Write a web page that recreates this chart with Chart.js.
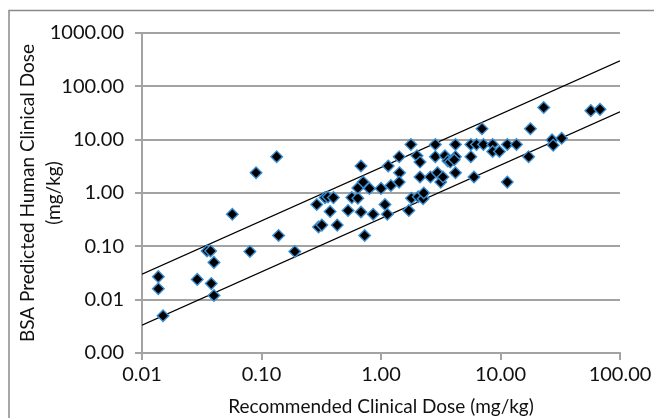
<!DOCTYPE html>
<html>
<head>
<meta charset="utf-8">
<script src="https://cdn.jsdelivr.net/npm/chart.js@4/dist/chart.umd.min.js"></script>
<style>
  html, body { margin: 0; padding: 0; background: #fff; }
  #wrap { width: 654px; height: 418px; position: relative; }
</style>
</head>
<body>
<div id="wrap"><canvas id="c" width="654" height="418"></canvas></div>
<script>
// ---- data ----
const recommendedDose = [
  0.0137, 0.0137, 0.015, 0.029, 0.035, 0.0375, 0.038, 0.040, 0.040, 0.057,
  0.080, 0.090, 0.134, 0.139, 0.19, 0.29, 0.30, 0.32, 0.34, 0.36,
  0.40, 0.375, 0.43, 0.53, 0.57, 0.64, 0.64, 0.68, 0.68, 0.71,
  0.73, 0.80, 0.86, 1.0, 1.08, 1.13, 1.15, 1.21, 1.42, 1.43,
  1.42, 1.71, 1.78, 1.80, 2.0, 2.12, 2.12, 2.05, 2.25, 2.28,
  2.59, 2.85, 2.85, 2.97, 3.16, 3.3, 3.43, 3.63, 3.8, 4.2,
  4.2, 4.2, 4.1, 5.65, 5.65, 6.0, 6.3, 7.0, 7.2, 8.6,
  8.6, 9.8, 11.4, 11.4, 13.6, 17.2, 17.8, 23, 27, 27.6,
  32.5, 57, 68
];
const predictedDose = [
  0.027, 0.016, 0.005, 0.024, 0.082, 0.082, 0.020, 0.050, 0.012, 0.40,
  0.080, 2.4, 4.8, 0.16, 0.080, 0.61, 0.23, 0.25, 0.82, 0.84,
  0.82, 0.45, 0.25, 0.47, 0.82, 0.80, 1.24, 3.2, 0.44, 1.6,
  0.16, 1.22, 0.40, 1.22, 0.61, 0.40, 3.2, 1.38, 4.8, 2.4,
  1.6, 0.47, 8.1, 0.80, 5.0, 3.8, 2.0, 0.85, 0.78, 1.0,
  2.0, 8.1, 4.8, 2.4, 1.6, 2.0, 5.0, 4.0, 3.8, 8.1,
  4.8, 2.4, 4.2, 8.1, 4.8, 2.0, 8.1, 16, 8.1, 8.1,
  6.0, 6.0, 8.1, 1.6, 8.1, 4.8, 16, 40, 9.9, 7.9,
  10.6, 35, 37
];
// reference lines (3-fold above / below identity)
const lineX = [0.01, 100];
const upperLineY = [0.03, 300];
const lowerLineY = [0.01 / 3, 100 / 3];

const xTickValues = [0.01, 0.1, 1, 10, 100];
const xTickLabels = ['0.01', '0.10', '1.00', '10.00', '100.00'];
const yTickValues = [0.001, 0.01, 0.1, 1, 10, 100, 1000];
const yTickLabels = ['0.00', '0.01', '0.10', '1.00', '10.00', '100.00', '1000.00'];

const xTitle = 'Recommended Clinical Dose (mg/kg)';
const yTitle = ['BSA Predicted Human Clinical Dose', '(mg/kg)'];

// ---- build ----
const pts = recommendedDose.map((x, i) => ({ x: x, y: predictedDose[i] }));
const upper = lineX.map((x, i) => ({ x: x, y: upperLineY[i] }));
const lower = lineX.map((x, i) => ({ x: x, y: lowerLineY[i] }));

const FONT = 'Lato, "Open Sans", sans-serif';
const GRID = '#a3a3a3';
const TEXT = '#111';

const framePlugin = {
  id: 'frame',
  beforeDraw(chart) {
    const ctx = chart.ctx;
    ctx.save();
    ctx.strokeStyle = '#8a8a8a';
    ctx.lineWidth = 1.5;
    ctx.beginPath();
    ctx.moveTo(9, 418);
    ctx.lineTo(9, 10.5);
    ctx.lineTo(654, 10.5);
    ctx.stroke();
    ctx.restore();
  }
};

new Chart(document.getElementById('c'), {
  type: 'scatter',
  data: {
    datasets: [
      {
        label: 'Drugs',
        data: pts,
        pointStyle: 'rectRot',
        pointRadius: 5.8,
        pointHoverRadius: 5.8,
        backgroundColor: '#000000',
        borderColor: '#3a8fd4',
        borderWidth: 1.4,
        order: 0
      },
      {
        label: 'Upper',
        data: upper,
        showLine: true,
        pointRadius: 0,
        borderColor: '#000000',
        borderWidth: 1.2,
        order: 1
      },
      {
        label: 'Lower',
        data: lower,
        showLine: true,
        pointRadius: 0,
        borderColor: '#000000',
        borderWidth: 1.2,
        order: 1
      }
    ]
  },
  options: {
    responsive: false,
    animation: false,
    layout: { padding: { left: 0, top: 33, right: 34, bottom: 0 } },
    plugins: {
      legend: { display: false },
      tooltip: { enabled: false }
    },
    scales: {
      x: {
        type: 'logarithmic',
        min: 0.01, max: 100,
        afterBuildTicks(s) { s.ticks = xTickValues.map(v => ({ value: v })); },
        afterFit(s) {
          s.height = 65;
          s.paddingLeft = 0; s.paddingRight = 0; s.paddingTop = 0; s.paddingBottom = 0;
        },
        grid: { drawOnChartArea: false, drawTicks: true, tickLength: 7, color: GRID, lineWidth: 2 },
        border: { display: true, color: GRID, width: 2 },
        ticks: {
          autoSkip: false, maxRotation: 0, padding: 3, color: TEXT,
          font: { family: FONT, size: 20 },
          callback: (v, i) => xTickLabels[i]
        },
        title: {
          display: true, text: xTitle, color: TEXT,
          font: { family: FONT, size: 19 },
          padding: { top: 0, bottom: 0 }
        }
      },
      y: {
        type: 'logarithmic',
        min: 0.001, max: 1000,
        afterBuildTicks(s) { s.ticks = yTickValues.map(v => ({ value: v })); },
        afterFit(s) {
          s.width = 142;
          s.paddingLeft = 0; s.paddingRight = 0; s.paddingTop = 0; s.paddingBottom = 0;
        },
        grid: { drawOnChartArea: true, drawTicks: true, tickLength: 7, color: GRID, lineWidth: 2 },
        border: { display: true, color: GRID, width: 2 },
        ticks: {
          autoSkip: false, padding: 11, color: TEXT,
          font: { family: FONT, size: 20 },
          callback: (v, i) => yTickLabels[i]
        },
        title: {
          display: true, text: yTitle, color: TEXT,
          font: { family: FONT, size: 19, lineHeight: 1.37 },
          padding: { top: 15, bottom: 0 }
        }
      }
    }
  },
  plugins: [framePlugin]
});
</script>
</body>
</html>
